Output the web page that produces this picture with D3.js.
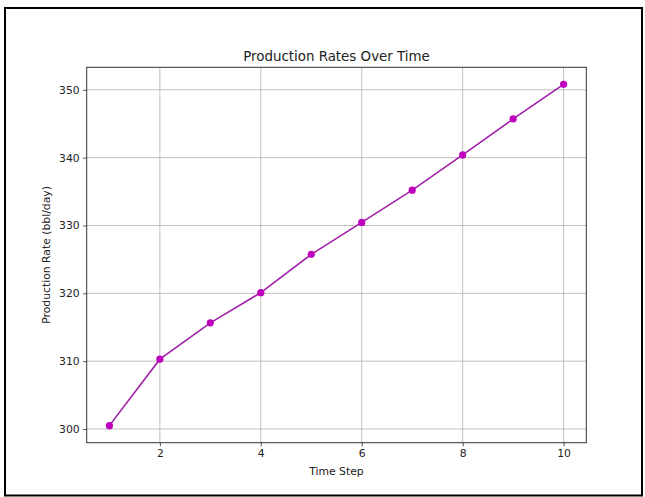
<!DOCTYPE html>
<html lang="en">
<head>
    <meta charset="UTF-8">
    <title>Production Rates Over Time</title>
    <style>
        body {
            margin: 0;
            background: #fff;
        }

        #chart text {
            font-family: "DejaVu Sans", sans-serif;
            fill: #222;
        }
    </style>
</head>
<body>

<div id="chart"></div>

<script src="https://cdn.jsdelivr.net/npm/d3@7/dist/d3.min.js"></script>
<script>
    // data
    var timeSteps = [1, 2, 3, 4, 5, 6, 7, 8, 9, 10];
    var rates = [300.5, 310.3, 315.65, 320.1, 325.75, 330.45, 335.2, 340.4, 345.7, 350.8];
    var xTicks = [2, 4, 6, 8, 10];
    var yTicks = [300, 310, 320, 330, 340, 350];

    var W = 645, H = 497;
    // axes box in pixels (not "top": window.top is read-only)
    var axL = 86.7, axR = 586.3, axT = 67.3, axB = 442.7;

    var svg = d3.select("#chart").append("svg")
        .attr("width", W)
        .attr("height", H);

    // outer frame
    svg.append("rect")
        .attr("x", 5).attr("y", 8)
        .attr("width", 637).attr("height", 487.5)
        .attr("fill", "none")
        .attr("stroke", "#000")
        .attr("stroke-width", 2);

    // matplotlib style 5% margins
    var xPad = (d3.max(timeSteps) - d3.min(timeSteps)) * 0.05;
    var yPad = (d3.max(rates) - d3.min(rates)) * 0.05;

    var x = d3.scaleLinear()
        .domain([d3.min(timeSteps) - xPad, d3.max(timeSteps) + xPad])
        .range([axL, axR]);

    var y = d3.scaleLinear()
        .domain([d3.min(rates) - yPad, d3.max(rates) + yPad])
        .range([axB, axT]);

    //网格
    var grid = svg.append("g").attr("class", "grid");
    grid.selectAll("line.gx")
        .data(xTicks)
        .enter().append("line")
        .attr("class", "gx")
        .attr("x1", function (d) { return x(d); })
        .attr("x2", function (d) { return x(d); })
        .attr("y1", axT).attr("y2", axB)
        .attr("stroke", "#b0b0b0")
        .attr("stroke-width", 0.8);
    grid.selectAll("line.gy")
        .data(yTicks)
        .enter().append("line")
        .attr("class", "gy")
        .attr("y1", function (d) { return y(d); })
        .attr("y2", function (d) { return y(d); })
        .attr("x1", axL).attr("x2", axR)
        .attr("stroke", "#b0b0b0")
        .attr("stroke-width", 0.8);

    // axes
    var xAxis = d3.axisBottom(x).tickValues(xTicks).tickSize(3.5).tickPadding(3.5)
        .tickFormat(d3.format("d"));
    var yAxis = d3.axisLeft(y).tickValues(yTicks).tickSize(3.5).tickPadding(3.5)
        .tickFormat(d3.format("d"));

    var gx = svg.append("g")
        .attr("transform", "translate(0," + axB + ")")
        .call(xAxis);
    var gy = svg.append("g")
        .attr("transform", "translate(" + axL + ",0)")
        .call(yAxis);

    [gx, gy].forEach(function (g) {
        g.select(".domain").remove();
        g.selectAll(".tick line").attr("stroke", "#222").attr("stroke-width", 0.8);
        g.selectAll(".tick text").style("font-size", "10.8px");
    });

    // line + markers
    var pts = timeSteps.map(function (t, i) { return [t, rates[i]]; });
    var line = d3.line()
        .x(function (d) { return x(d[0]); })
        .y(function (d) { return y(d[1]); });

    svg.append("path")
        .datum(pts)
        .attr("d", line)
        .attr("fill", "none")
        .attr("stroke", "#a020a8")
        .attr("stroke-width", 1.6);

    svg.selectAll("circle.pt")
        .data(pts)
        .enter().append("circle")
        .attr("class", "pt")
        .attr("cx", function (d) { return x(d[0]); })
        .attr("cy", function (d) { return y(d[1]); })
        .attr("r", 3.6)
        .attr("fill", "#bf00bf");

    // spines
    svg.append("rect")
        .attr("x", axL).attr("y", axT)
        .attr("width", axR - axL).attr("height", axB - axT)
        .attr("fill", "none")
        .attr("stroke", "#333")
        .attr("stroke-width", 1);

    // texts
    svg.append("text")
        .attr("x", (axL + axR) / 2).attr("y", 61)
        .attr("text-anchor", "middle")
        .style("font-size", "13.4px")
        .text("Production Rates Over Time");

    svg.append("text")
        .attr("x", (axL + axR) / 2).attr("y", 475)
        .attr("text-anchor", "middle")
        .style("font-size", "10.8px")
        .text("Time Step");

    svg.append("text")
        .attr("transform", "translate(50," + ((axT + axB) / 2) + ") rotate(-90)")
        .attr("text-anchor", "middle")
        .style("font-size", "10.8px")
        .text("Production Rate (bbl/day)");
</script>
</body>
</html>
